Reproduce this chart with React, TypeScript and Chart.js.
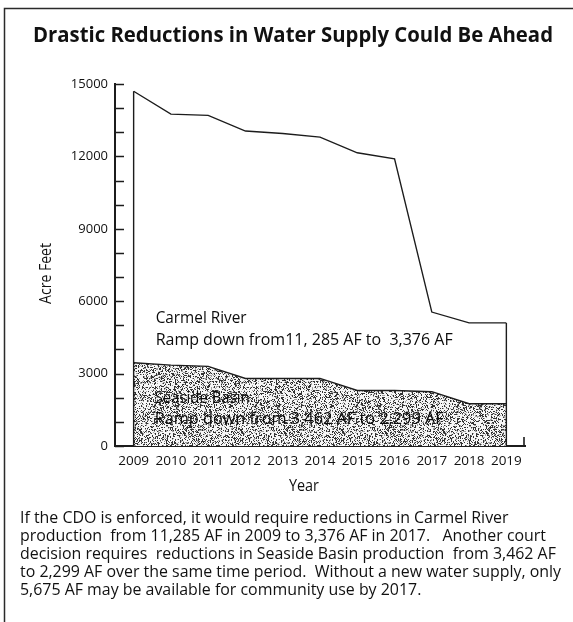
import { useEffect, useRef } from 'react';
import { Chart, registerables } from 'chart.js';

Chart.register(...registerables);

// ---- data ----
const YEARS = ['2009', '2010', '2011', '2012', '2013', '2014', '2015', '2016', '2017', '2018', '2019'];
// upper line (Carmel River on top of Seaside Basin), acre feet
const CARMEL_TOP = [14700, 13750, 13700, 13050, 12950, 12800, 12150, 11900, 5550, 5100, 5100];
// Seaside Basin, acre feet
const SEASIDE = [3450, 3350, 3300, 2800, 2800, 2800, 2300, 2300, 2250, 1750, 1750];
const Y_LABELED = [0, 3000, 6000, 9000, 12000, 15000];
const Y_MIN = 0;
const Y_MAX = 15000;
const Y_STEP = 1000;

const TITLE = 'Drastic Reductions in Water Supply Could Be Ahead';
const Y_TITLE = 'Acre Feet';
const X_TITLE = 'Year';
const CARMEL_NOTE = ['Carmel River', 'Ramp down from11, 285 AF to  3,376 AF'];
const SEASIDE_NOTE = ['Seaside Basin', 'Ramp down from 3,462 AF to 2,299 AF'];
const PARAGRAPH = [
  'If the CDO is enforced, it would require reductions in Carmel River',
  'production  from 11,285 AF in 2009 to 3,376 AF in 2017.   Another court',
  'decision requires  reductions in Seaside Basin production  from 3,462 AF',
  'to 2,299 AF over the same time period.  Without a new water supply, only',
  '5,675 AF may be available for community use by 2017.',
];

const W = 573;
const H = 622;
const INK = '#1c1c1c';
const FONT = '"Open Sans", "Noto Sans", sans-serif';

function makeStipple(): CanvasPattern | string {
  const c = document.createElement('canvas');
  c.width = 101;
  c.height = 97;
  const ctx = c.getContext('2d');
  if (!ctx) return '#999';
  const img = ctx.createImageData(c.width, c.height);
  for (let y = 0; y < c.height; y++) {
    for (let x = 0; x < c.width; x++) {
      let h = (Math.imul(x + 17, 374761393) + Math.imul(y + 29, 668265263)) | 0;
      h = Math.imul(h ^ (h >>> 13), 1274126177);
      h = h ^ (h >>> 16);
      const r = (h >>> 0) / 4294967296;
      const v = r < 0.27 ? 50 : r < 0.4 ? 160 : 246;
      const i = (y * c.width + x) * 4;
      img.data[i] = v;
      img.data[i + 1] = v;
      img.data[i + 2] = v;
      img.data[i + 3] = 255;
    }
  }
  ctx.putImageData(img, 0, 0);
  return ctx.createPattern(c, 'repeat') || '#999';
}

function fitText(ctx: CanvasRenderingContext2D, text: string, x: number, y: number, width: number) {
  const m = ctx.measureText(text).width;
  const s = width / m;
  ctx.save();
  ctx.translate(x, y);
  ctx.scale(s, 1);
  ctx.fillText(text, 0, 0);
  ctx.restore();
}

const decorPlugin = {
  id: 'decor',
  beforeDraw(chart: any) {
    const ctx = chart.ctx as CanvasRenderingContext2D;
    ctx.save();
    ctx.fillStyle = '#ffffff';
    ctx.fillRect(0, 0, chart.width, chart.height);
    ctx.restore();
  },
  afterDatasetsDraw(chart: any) {
    const ctx = chart.ctx as CanvasRenderingContext2D;
    const xs = chart.scales.x;
    const ys = chart.scales.y;
    const area = chart.chartArea;
    const last = YEARS.length - 1;
    const x0 = xs.getPixelForValue(0);
    const x1 = xs.getPixelForValue(last);
    const base = ys.getPixelForValue(0);
    ctx.save();
    ctx.strokeStyle = INK;
    ctx.lineWidth = 1.4;
    // closing edges of the areas
    ctx.beginPath();
    ctx.moveTo(x0, base);
    ctx.lineTo(x0, ys.getPixelForValue(CARMEL_TOP[0]));
    ctx.moveTo(x1, ys.getPixelForValue(SEASIDE[last]));
    ctx.lineTo(x1, ys.getPixelForValue(CARMEL_TOP[last]));
    ctx.moveTo(x1, base);
    ctx.lineTo(x1, ys.getPixelForValue(SEASIDE[last]));
    ctx.stroke();
    // inward tick marks on y axis
    ctx.lineWidth = 1.6;
    ctx.beginPath();
    for (let v = Y_MIN; v <= Y_MAX; v += Y_STEP) {
      const py = Math.round(ys.getPixelForValue(v)) + 0.5;
      ctx.moveTo(area.left, py);
      ctx.lineTo(area.left + 9, py);
    }
    // small end tick on x axis
    ctx.moveTo(area.right - 1, area.bottom);
    ctx.lineTo(area.right - 1, area.bottom - 9);
    ctx.stroke();

    // annotations
    ctx.fillStyle = '#0c0c0c';
    ctx.textBaseline = 'alphabetic';
    ctx.font = `15.5px ${FONT}`;
    fitText(ctx, CARMEL_NOTE[0], x0 + 22, 323, 91);
    fitText(ctx, CARMEL_NOTE[1], x0 + 22, 345, 297);
    fitText(ctx, SEASIDE_NOTE[0], x0 + 21, 403, 95);
    fitText(ctx, SEASIDE_NOTE[1], x0 + 21, 424, 289);
    ctx.restore();
  },
  afterDraw(chart: any) {
    const ctx = chart.ctx as CanvasRenderingContext2D;
    ctx.save();
    // frame
    ctx.strokeStyle = '#2a2a2a';
    ctx.lineWidth = 1.5;
    ctx.beginPath();
    ctx.moveTo(W, 8.5);
    ctx.lineTo(4.5, 8.5);
    ctx.lineTo(4.5, H);
    ctx.stroke();

    ctx.fillStyle = '#111';
    ctx.textBaseline = 'alphabetic';
    // title
    ctx.font = `bold 20.5px ${FONT}`;
    fitText(ctx, TITLE, 33, 42, 520);

    // y title
    ctx.font = `15.5px ${FONT}`;
    ctx.save();
    ctx.translate(51, 304);
    ctx.rotate(-Math.PI / 2);
    fitText(ctx, Y_TITLE, 0, 0, 61);
    ctx.restore();

    // x title
    ctx.font = `15.5px ${FONT}`;
    fitText(ctx, X_TITLE, 289, 491, 30);

    // paragraph
    ctx.font = `16px ${FONT}`;
    const s = 541 / ctx.measureText(PARAGRAPH[3]).width;
    PARAGRAPH.forEach((line, i) => {
      ctx.save();
      ctx.translate(20, 523 + i * 18);
      ctx.scale(s, 1);
      ctx.fillText(line, 0, 0);
      ctx.restore();
    });
    ctx.restore();
  },
};

export default function App() {
  const ref = useRef<HTMLCanvasElement | null>(null);
  useEffect(() => {
    if (!ref.current) return;
    const stipple = makeStipple();
    const chart = new Chart(ref.current, {
      type: 'line',
      data: {
        labels: YEARS,
        datasets: [
          {
            label: 'Carmel River',
            data: CARMEL_TOP,
            borderColor: INK,
            borderWidth: 1.4,
            pointRadius: 0,
            fill: false,
            tension: 0,
          },
          {
            label: 'Seaside Basin',
            data: SEASIDE,
            borderColor: INK,
            borderWidth: 1.4,
            backgroundColor: stipple as any,
            pointRadius: 0,
            fill: 'origin',
            tension: 0,
          },
        ],
      },
      options: {
        animation: false,
        responsive: false,
        devicePixelRatio: 1,
        layout: { padding: { top: 84, right: 48, left: 0, bottom: 0 } },
        plugins: { legend: { display: false }, tooltip: { enabled: false }, title: { display: false } },
        scales: {
          x: {
            type: 'category',
            offset: true,
            grid: { display: false, drawTicks: false },
            border: { display: true, color: INK, width: 2 },
            ticks: {
              color: '#111',
              font: { family: FONT, size: 13.5 },
              padding: 7,
              autoSkip: false,
              maxRotation: 0,
            },
            afterFit: (s: any) => {
              s.height = 176;
            },
          },
          y: {
            min: Y_MIN,
            max: Y_MAX,
            grid: { display: false, drawTicks: false },
            border: { display: true, color: INK, width: 2 },
            ticks: {
              stepSize: Y_STEP,
              autoSkip: false,
              color: '#111',
              font: { family: FONT, size: 13 },
              padding: 7,
              callback: (v: any) => (Y_LABELED.includes(Number(v)) ? String(v) : ''),
            },
            afterFit: (s: any) => {
              s.width = 115;
            },
          },
        },
      },
      plugins: [decorPlugin],
    });
    return () => chart.destroy();
  }, []);
  return (
    <div style={{ position: 'absolute', left: 0, top: 0, width: W, height: H, overflow: 'hidden', background: '#fff' }}>
      <canvas ref={ref} width={W} height={H} style={{ display: 'block', width: W, height: H }} />
    </div>
  );
}
